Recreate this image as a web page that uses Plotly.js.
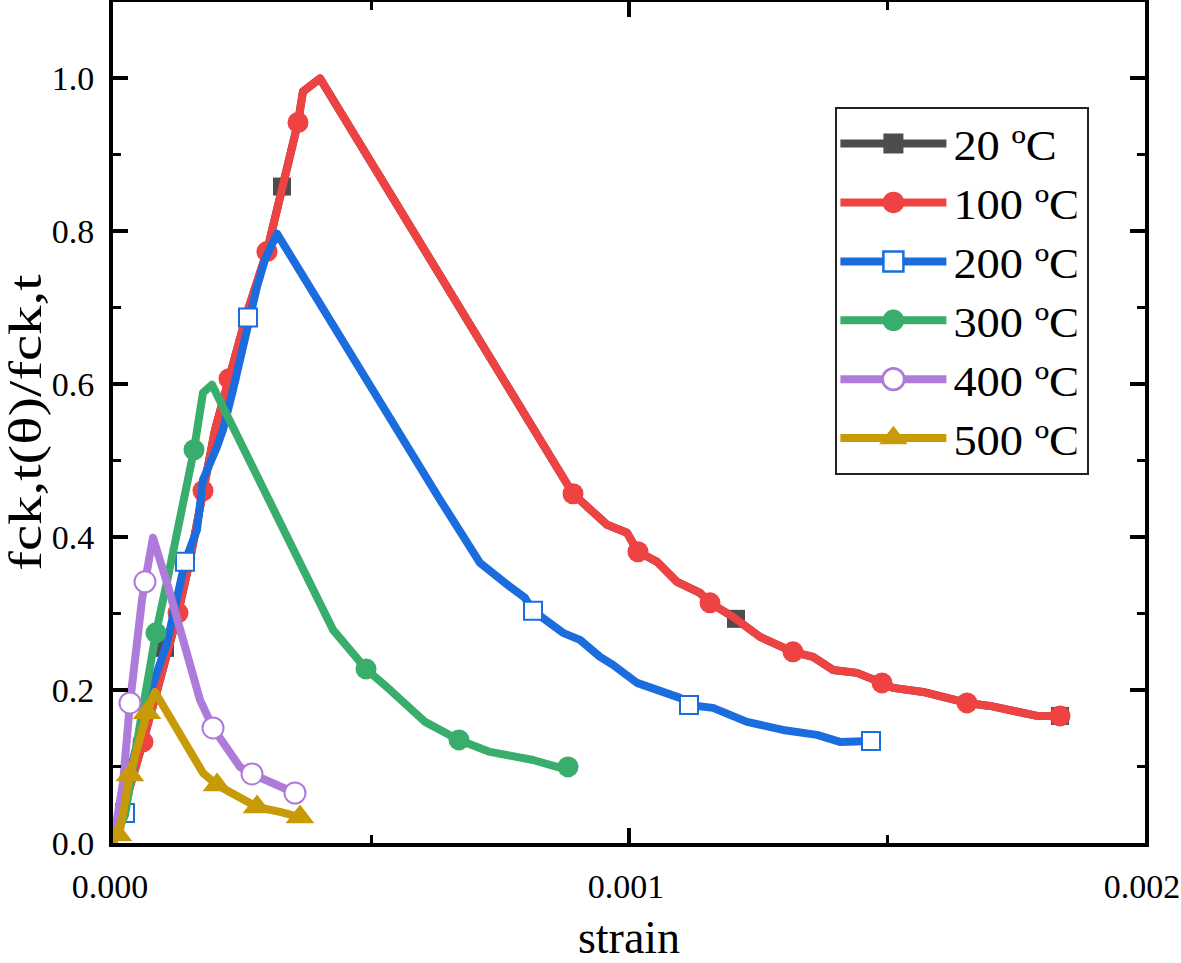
<!DOCTYPE html>
<html>
<head>
<meta charset="utf-8">
<script src="https://cdn.plot.ly/plotly-3.0.1.min.js"></script>
<style>
  html, body { margin: 0; padding: 0; background: #ffffff; }
  #chart { width: 1181px; height: 963px; }
  #chart .js-line { stroke-linejoin: round; }
</style>
</head>
<body>
<div id="chart"></div>
<script>
// ---------------- data ----------------
var seriesNames = ["20 ºC", "100 ºC", "200 ºC", "300 ºC", "400 ºC", "500 ºC"];

// 100 ºC (line)
var t100_x = [0.0000039, 0.0000291, 0.0000581, 0.0000911, 0.000126, 0.0001492, 0.0001744, 0.0001977, 0.0002248, 0.0002616, 0.0002984, 0.0003275, 0.0003585, 0.0003682, 0.0004012, 0.0008915, 0.0009574, 0.0009961, 0.0010174, 0.0010543, 0.001093, 0.0011376, 0.001157, 0.0012016, 0.0012539, 0.0013178, 0.0013566, 0.0013953, 0.0014419, 0.0014903, 0.0015116, 0.0015698, 0.0016163, 0.001655, 0.0016996, 0.0017578, 0.0017907, 0.0018353];
var t100_y = [0.0065, 0.0694, 0.1322, 0.2134, 0.301, 0.3704, 0.4607, 0.5406, 0.6073, 0.6976, 0.7736, 0.8547, 0.9424, 0.983, 1.0, 0.4568, 0.4162, 0.4058, 0.3809, 0.3678, 0.3416, 0.3272, 0.3141, 0.2958, 0.2696, 0.25, 0.2435, 0.2264, 0.2225, 0.2094, 0.2029, 0.1976, 0.1898, 0.1832, 0.1793, 0.1702, 0.1662, 0.1662];
// 100 ºC (symbols)
var t100_mx = [0.0000581, 0.000126, 0.0001744, 0.0002248, 0.0002984, 0.0003585, 0.0008915, 0.0010174, 0.001157, 0.0013178, 0.0014903, 0.001655, 0.0018353];
var t100_my = [0.1322, 0.301, 0.4607, 0.6073, 0.7736, 0.9424, 0.4568, 0.3809, 0.3141, 0.25, 0.2094, 0.1832, 0.1662];

// 20 ºC (same curve as 100 ºC, lies underneath it)
var t20_x = t100_x.slice();
var t20_y = t100_y.slice();
var t20_mx = [0.0001008, 0.0003275, 0.0012074, 0.0018353];
var t20_my = [0.2552, 0.8586, 0.2932, 0.1662];

// 200 ºC
var t200_x = [0.0000039, 0.0000233, 0.0000388, 0.0000717, 0.0001047, 0.0001395, 0.0001628, 0.0001686, 0.0001744, 0.0002016, 0.0002132, 0.0002326, 0.0002519, 0.0002616, 0.0002791, 0.0002946, 0.0003178, 0.0006337, 0.0007112, 0.0007694, 0.0007984, 0.000814, 0.0008721, 0.000905, 0.0009438, 0.000969, 0.0010155, 0.0010988, 0.0011163, 0.0011628, 0.0012287, 0.0012984, 0.0013643, 0.0014089, 0.001469];
var t200_y = [0.0065, 0.0393, 0.1086, 0.1963, 0.2618, 0.3678, 0.4097, 0.4398, 0.4751, 0.5183, 0.5406, 0.5929, 0.6492, 0.6872, 0.7277, 0.7631, 0.7971, 0.449, 0.3665, 0.3351, 0.3207, 0.3037, 0.2749, 0.2657, 0.2435, 0.233, 0.2094, 0.1898, 0.1806, 0.1767, 0.1584, 0.1479, 0.1414, 0.1322, 0.1335];
var t200_mx = [0.0000233, 0.0001395, 0.0002616, 0.000814, 0.0011163, 0.001469];
var t200_my = [0.0393, 0.3678, 0.6872, 0.3037, 0.1806, 0.1335];

// 300 ºC
var t300_x = [0, 0.0000233, 0.0000523, 0.0000833, 0.0001066, 0.0001298, 0.000157, 0.0001744, 0.0001919, 0.0004264, 0.0004496, 0.0004903, 0.0005368, 0.0005756, 0.0006047, 0.0006705, 0.0007306, 0.000814, 0.0008605, 0.0008818];
var t300_y = [0, 0.0366, 0.1545, 0.2749, 0.3482, 0.4228, 0.5144, 0.589, 0.5995, 0.2788, 0.2592, 0.2277, 0.2003, 0.1767, 0.1584, 0.1348, 0.1191, 0.1086, 0.0995, 0.0995];
var t300_mx = [0.0000833, 0.000157, 0.0004903, 0.0006705, 0.0008818];
var t300_my = [0.2749, 0.5144, 0.2277, 0.1348, 0.0995];

// 400 ºC
var t400_x = [0, 0.0000078, 0.0000194, 0.0000329, 0.0000388, 0.0000562, 0.000062, 0.0000775, 0.0001047, 0.0001357, 0.0001686, 0.0001938, 0.0002461, 0.0002694, 0.0002984, 0.0003527];
var t400_y = [0, 0.0301, 0.0785, 0.1832, 0.2225, 0.3181, 0.3416, 0.3992, 0.3403, 0.2657, 0.1872, 0.1505, 0.0995, 0.0903, 0.0825, 0.0654];
var t400_mx = [0.0000329, 0.000062, 0.0001938, 0.0002694, 0.0003527];
var t400_my = [0.1832, 0.3416, 0.1505, 0.0903, 0.0654];

// 500 ºC
var t500_x = [0, 0.0000136, 0.0000329, 0.0000659, 0.0000814, 0.0001744, 0.0002016, 0.0002655, 0.0002791, 0.0003236, 0.0003624];
var t500_y = [0, 0.017, 0.089, 0.1702, 0.1976, 0.0916, 0.0759, 0.0497, 0.0471, 0.0406, 0.034];
var t500_mx = [0.0000097, 0.0000329, 0.0000659, 0.0002016, 0.0002791, 0.0003624];
var t500_my = [0.0105, 0.089, 0.1702, 0.0759, 0.0471, 0.034];

// x / y tick values
var xTicks = [0, 0.001, 0.002];
var yTicks = [0.0, 0.2, 0.4, 0.6, 0.8, 1.0];

// ---------------- styles ----------------
var colors = ["#4d4d4d", "#ef4242", "#1b6ddd", "#39ad6b", "#ae7bdb", "#c99a07"];
var symbols = ["square", "circle", "square", "circle", "circle", "triangle-up"];
var sizes = [18, 21, 18, 21, 21, 25];
var legendSymScale = [1.25, 1.35, 1.25, 1.35, 1.35, 1.55];
var openSym = [false, false, true, false, true, false];

var lines = [[t20_x, t20_y], [t100_x, t100_y], [t200_x, t200_y], [t300_x, t300_y], [t400_x, t400_y], [t500_x, t500_y]];
var marks = [[t20_mx, t20_my], [t100_mx, t100_my], [t200_mx, t200_my], [t300_mx, t300_my], [t400_mx, t400_my], [t500_mx, t500_my]];

function markerSpec(i) {
  return {
    symbol: symbols[i],
    size: sizes[i],
    color: openSym[i] ? "#ffffff" : colors[i],
    line: { color: colors[i], width: openSym[i] ? 2 : 0 }
  };
}

var traces = [];
for (var i = 0; i < seriesNames.length; i++) {
  traces.push({
    x: lines[i][0], y: lines[i][1], type: "scatter", mode: "lines",
    line: { color: colors[i], width: 8 },
    showlegend: false, hoverinfo: "skip", legendgroup: "g" + i
  });
  traces.push({
    x: marks[i][0], y: marks[i][1], type: "scatter", mode: "markers",
    marker: markerSpec(i),
    showlegend: false, hoverinfo: "skip", legendgroup: "g" + i
  });
}
// legend entries
for (var j = 0; j < seriesNames.length; j++) {
  traces.push({
    x: [null], y: [null], type: "scatter", mode: "lines+markers",
    name: seriesNames[j],
    line: { color: colors[j], width: 8 },
    marker: markerSpec(j),
    legendgroup: "g" + j
  });
}

var fontFam = "'Liberation Serif', 'Times New Roman', serif";
var LEG_W = 106;

var layout = {
  width: 1181, height: 963,
  margin: { l: 113, r: 36, t: 2, b: 120 },
  paper_bgcolor: "#ffffff", plot_bgcolor: "#ffffff",
  font: { family: fontFam, color: "#000000", size: 34 },
  showlegend: true,
  legend: {
    x: 0.70, y: 0.875, xanchor: "left", yanchor: "top",
    bgcolor: "#ffffff", bordercolor: "#222222", borderwidth: 2,
    font: { family: fontFam, size: 43, color: "#000000" },
    itemwidth: LEG_W, tracegroupgap: 0
  },
  xaxis: {
    range: [0, 0.002], tickvals: xTicks, tickformat: ".3f",
    showgrid: false, zeroline: false,
    showline: true, linecolor: "#000000", linewidth: 4, mirror: "allticks",
    ticks: "inside", ticklen: 15, tickwidth: 4, tickcolor: "#000000",
    minor: { dtick: 0.0005, tick0: 0, ticks: "inside", ticklen: 8, tickwidth: 3, tickcolor: "#000000", showgrid: false },
    tickfont: { family: fontFam, size: 34, color: "#000000" },
    ticklabeloverflow: "allow",
    ticklabelshift: -3,
    ticklabelstandoff: 10,
    title: { text: "strain", font: { family: fontFam, size: 46, color: "#000000" }, standoff: 40 }
  },
  yaxis: {
    range: [0, 1.1], tickvals: yTicks, tickformat: ".1f",
    showgrid: false, zeroline: false,
    showline: true, linecolor: "#000000", linewidth: 4, mirror: "allticks",
    ticks: "inside", ticklen: 15, tickwidth: 4, tickcolor: "#000000",
    minor: { dtick: 0.1, tick0: 0, ticks: "inside", ticklen: 8, tickwidth: 3, tickcolor: "#000000", showgrid: false },
    tickfont: { family: fontFam, size: 34, color: "#000000" },
    ticklabelstandoff: 8,
    title: { text: "fck,t(θ)/fck,t", font: { family: fontFam, size: 46, color: "#000000" }, standoff: 4 }
  }
};

function tidy() {
  var gd = document.getElementById("chart");
  // y-axis title: stretch along its reading direction like the reference
  var yt = gd.querySelector(".g-ytitle text");
  if (yt) {
    var tx = parseFloat(yt.getAttribute("x")), ty = parseFloat(yt.getAttribute("y"));
    yt.setAttribute("transform", "rotate(-90," + tx + "," + ty + ") translate(" + tx + "," + ty + ") scale(1.28,1) translate(" + (-tx) + "," + (-ty) + ")");
  }
  var legend = gd.querySelector(".legend");
  if (!legend) return;
  var items = legend.querySelectorAll(".traces");
  items.forEach(function (it, k) {
    var ln = it.querySelector(".legendlines path");
    if (ln) ln.setAttribute("d", "M3,0h" + LEG_W);
    var sc = legendSymScale[k] || 1.3;
    it.querySelectorAll(".legendsymbols path.scatterpts").forEach(function (p) {
      p.setAttribute("transform", "translate(" + (3 + LEG_W / 2) + ",0) scale(" + sc + ")");
    });
    var t = it.querySelector(".legendtext");
    if (t) {
      var lx = parseFloat(t.getAttribute("x")) || 0;
      t.setAttribute("transform", "translate(" + lx + ",0) scale(1.08,1) translate(" + (-lx) + ",0)");
    }
  });
  var bg = legend.querySelector("rect.bg");
  if (bg) {
    var bgBox = bg.getBoundingClientRect();
    var maxRight = 0;
    legend.querySelectorAll(".legendtext").forEach(function (t) {
      var b = t.getBoundingClientRect();
      if (b.right > maxRight) maxRight = b.right;
    });
    if (maxRight > 0) bg.setAttribute("width", Math.round(maxRight - bgBox.left + 8));
  }
}

Plotly.newPlot("chart", traces, layout, { displayModeBar: false, staticPlot: true }).then(tidy);
</script>
</body>
</html>
